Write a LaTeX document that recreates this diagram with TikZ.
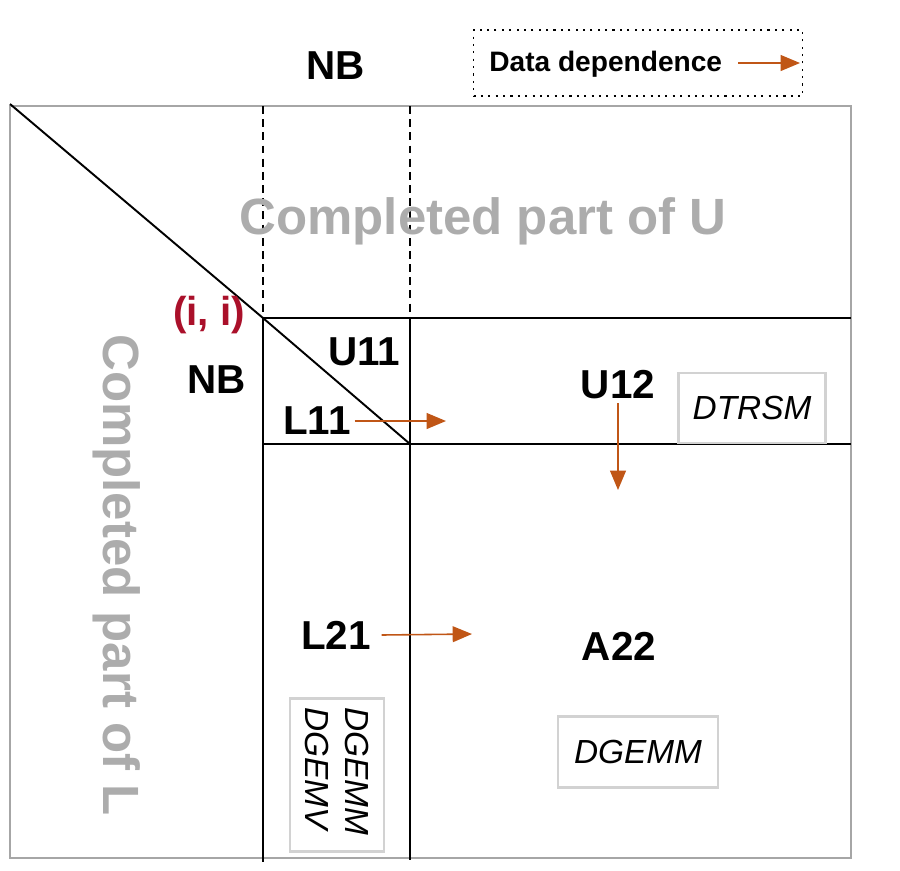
\documentclass[tikz,border=0pt]{standalone}
\usepackage{fontspec}
\setmainfont{Liberation Sans}
\usepackage{tikz}
\usetikzlibrary{positioning, arrows.meta}
\usepackage{xcolor}
\definecolor{depcolor}{RGB}{192,86,22}
\definecolor{pivotred}{RGB}{170,16,42}
\definecolor{donegray}{RGB}{172,172,172}

\begin{document}
\begin{tikzpicture}[
    x=0.02cm, y=-0.02cm,
    blocklabel/.style={font=\fontsize{23}{27}\selectfont\bfseries, inner sep=2pt},
    donelabel/.style={font=\fontsize{29}{34}\selectfont\bfseries, text=donegray, inner sep=0pt},
    kernel/.style={draw=gray!35, line width=1.3pt, fill=white, inner sep=0pt,
        font=\fontsize{19}{23}\selectfont\itshape},
    dep/.style={-{Triangle[length=11pt,width=9pt]}, draw=depcolor, line width=0.9pt},
    gridline/.style={line width=1.1pt}
]
    % Page size
    \useasboundingbox (0,0) rectangle (900,870);

    % Corners of the panel
    \coordinate (tl) at (10,104);
    \coordinate (ii) at (263,318);
    \coordinate (kk) at (410,444);

    % Outer frame
    \draw[gray!70, line width=1.1pt] (10,106) rectangle (851,858);

    % Diagonal of the matrix
    \draw[gridline] (tl) -- (ii) -- (kk);

    % Block column NB above the pivot
    \draw[gridline, dash pattern=on 4.5pt off 3pt] (263,106) -- (ii);
    \draw[gridline, dash pattern=on 4.5pt off 3pt] (410,106) -- (410,318);

    % Block rows and columns
    \draw[gridline] (ii) -- (851,318);
    \draw[gridline] (263,444) -- (851,444);
    \draw[gridline] (ii) -- (263,862);
    \draw[gridline] (410,318) -- (410,860);

    % Completed parts
    \node[donelabel, anchor=base] (doneU) at (483,234) {Completed part of U};
    \node[donelabel, anchor=base, rotate=-90] (doneL) at (103,575) {Completed part of L};

    % Block size labels
    \node[blocklabel] (nbtop) at (336,66) {NB};
    \node[blocklabel] (nbleft) at (217,380) {NB};
    \node[blocklabel, text=pivotred] (pivot) at (209,315) {(i, i)};

    % Blocks
    \node[blocklabel] (U11) at (364,352) {U11};
    \node[blocklabel] (L11) at (317,421) {L11};
    \node[blocklabel] (U12) at (618,385) {U12};
    \node[blocklabel] (L21) at (336,635) {L21};
    \node[blocklabel] (A22) at (619,646) {A22};

    % Kernels
    \node[kernel, minimum width=147*0.02cm, minimum height=70*0.02cm] (trsm) at (752,408) {DTRSM};
    \node[kernel, minimum width=160*0.02cm, minimum height=71*0.02cm] (gemm) at (638,752) {DGEMM};
    \node[kernel, rotate=-90, minimum width=153*0.02cm, minimum height=94*0.02cm,
        align=left, text width=135*0.02cm] (panel) at (337,775) {DGEMM\\DGEMV};

    % Data dependences
    \coordinate (l11tip) at (446,421);
    \coordinate (u12tip) at (618,490);
    \coordinate (l21tip) at (472,634);
    \draw[dep] (L11) -- (l11tip);
    \draw[dep] (U12) -- (u12tip);
    \draw[dep] ([xshift=4pt]L21.east) -- (l21tip);

    % Legend
    \node[draw, line width=1pt, dash pattern=on 1.2pt off 3pt, minimum width=329*0.02cm,
        minimum height=66*0.02cm] (legend) at (638,63) {};
    \node[font=\fontsize{16}{19}\selectfont\bfseries, anchor=west, inner sep=0pt] (legendtxt) at (489,64) {Data dependence};
    \coordinate (legendtip) at (800,63);
    \draw[dep] ([xshift=9pt]legendtxt.east |- legendtip) -- (legendtip);
\end{tikzpicture}
\end{document}
